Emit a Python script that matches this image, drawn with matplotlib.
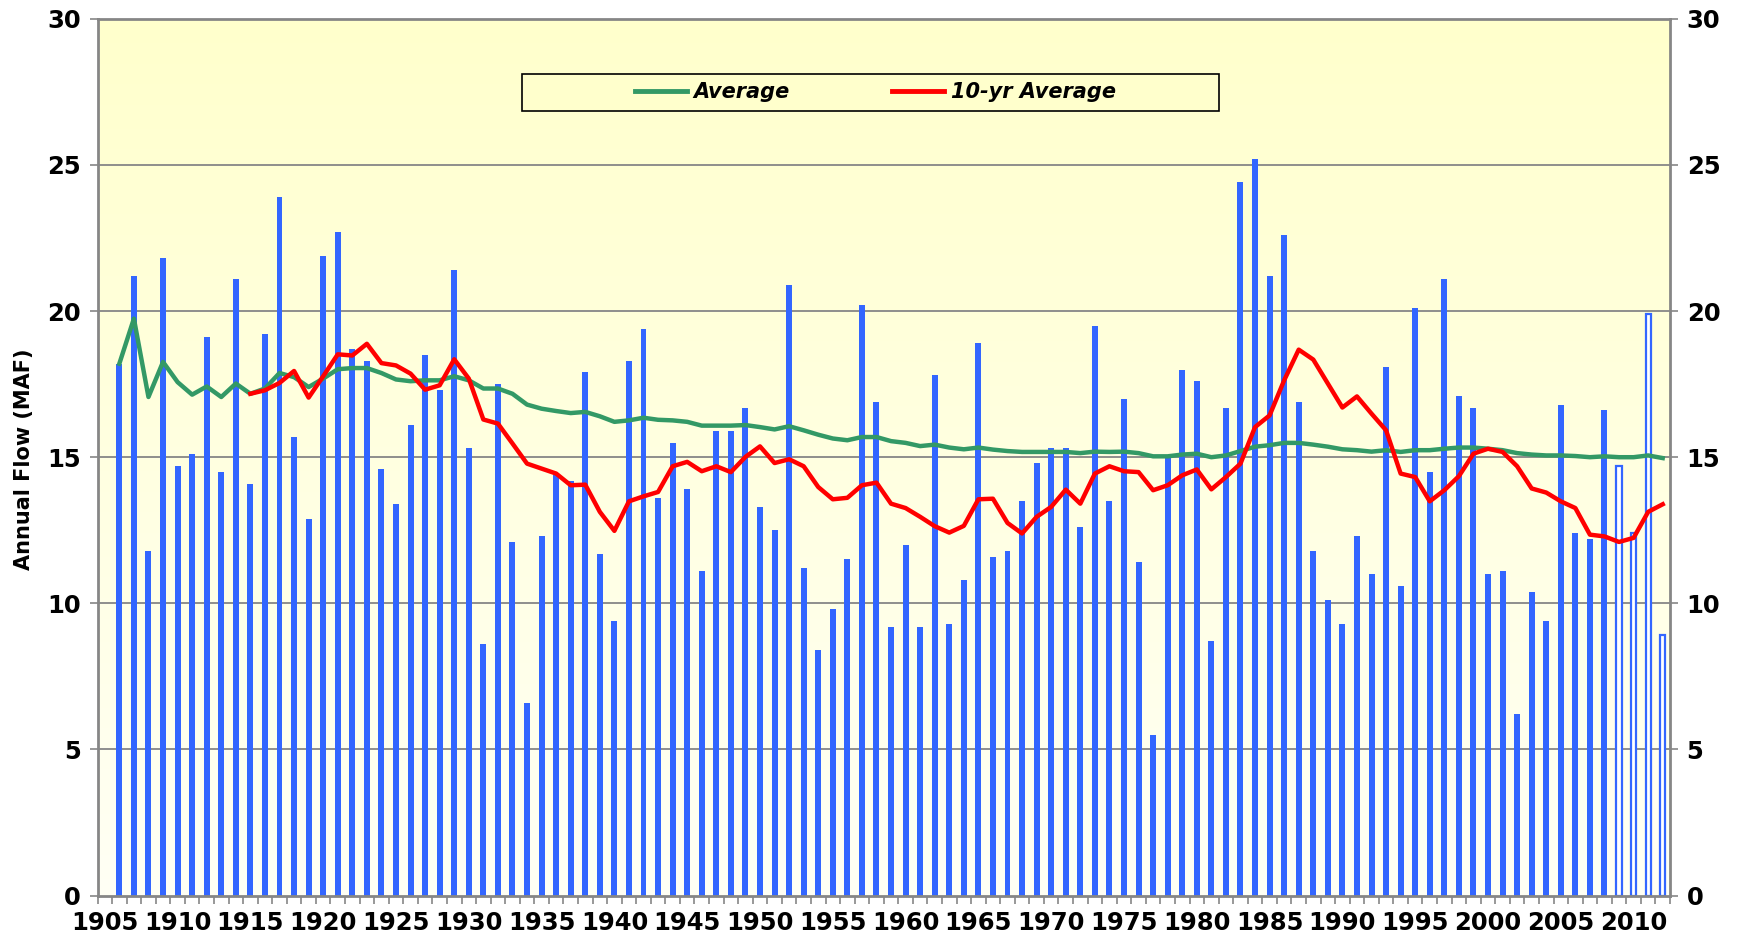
import numpy as np
import matplotlib
matplotlib.use("Agg")
import matplotlib.pyplot as plt
from matplotlib.patches import Rectangle
from matplotlib.lines import Line2D

# ---------------- data ----------------
years = list(range(1906, 2013))
flow = [18.2, 21.2, 11.8, 21.8, 14.7, 15.1, 19.1, 14.5, 21.1, 14.1,
        19.2, 23.9, 15.7, 12.9, 21.9, 22.7, 18.7, 18.3, 14.6, 13.4,
        16.1, 18.5, 17.3, 21.4, 15.3, 8.6, 17.5, 12.1, 6.6, 12.3,
        14.4, 14.2, 17.9, 11.7, 9.4, 18.3, 19.4, 13.6, 15.5, 13.9,
        11.1, 15.9, 15.9, 16.7, 13.3, 12.5, 20.9, 11.2, 8.4, 9.8,
        11.5, 20.2, 16.9, 9.2, 12.0, 9.2, 17.8, 9.3, 10.8, 18.9,
        11.6, 11.8, 13.5, 14.8, 15.3, 15.3, 12.6, 19.5, 13.5, 17.0,
        11.4, 5.5, 15.0, 18.0, 17.6, 8.7, 16.7, 24.4, 25.2, 21.2,
        22.6, 16.9, 11.8, 10.1, 9.3, 12.3, 11.0, 18.1, 10.6, 20.1,
        14.5, 21.1, 17.1, 16.7, 11.0, 11.1, 6.2, 10.4, 9.4, 16.8,
        12.4, 12.2, 16.6, 14.7, 12.4, 19.9, 8.9]
hollow_years = [2009, 2010, 2011, 2012]

average = [18.2, 19.74, 17.06, 18.26, 17.57, 17.14, 17.42, 17.06, 17.52, 17.17,
           17.35, 17.88, 17.74, 17.40, 17.69, 18.01, 18.05, 18.05, 17.88, 17.66,
           17.60, 17.63, 17.63, 17.77, 17.63, 17.35, 17.35, 17.17, 16.80, 16.66,
           16.58, 16.51, 16.55, 16.40, 16.21, 16.26, 16.35, 16.28, 16.26, 16.21,
           16.08, 16.08, 16.08, 16.10, 16.03, 15.95, 16.06, 15.92, 15.77, 15.64,
           15.58, 15.69, 15.69, 15.55, 15.49, 15.38, 15.43, 15.33, 15.27, 15.33,
           15.26, 15.21, 15.18, 15.18, 15.18, 15.18, 15.14, 15.19, 15.18, 15.19,
           15.14, 15.03, 15.03, 15.09, 15.12, 15.00, 15.06, 15.21, 15.36, 15.41,
           15.49, 15.49, 15.43, 15.36, 15.27, 15.24, 15.19, 15.24, 15.18, 15.24,
           15.24, 15.29, 15.33, 15.33, 15.29, 15.24, 15.14, 15.09, 15.06, 15.06,
           15.04, 15.00, 15.03, 15.00, 15.00, 15.06, 14.97]

ten_yr_years = list(range(1915, 2013))
ten_yr = [17.17, 17.29, 17.54, 17.95, 17.04, 17.77, 18.52, 18.48, 18.88, 18.22,
          18.14, 17.86, 17.31, 17.46, 18.35, 17.69, 16.29, 16.15, 15.47, 14.78,
          14.61, 14.44, 14.04, 14.06, 13.13, 12.48, 13.49, 13.66, 13.81, 14.69,
          14.84, 14.52, 14.69, 14.49, 15.01, 15.37, 14.80, 14.93, 14.69, 13.98,
          13.56, 13.61, 14.04, 14.13, 13.41, 13.26, 12.96, 12.64, 12.42, 12.65,
          13.56, 13.58, 12.75, 12.39, 12.96, 13.30, 13.89, 13.41, 14.44, 14.69,
          14.52, 14.49, 13.87, 14.04, 14.38, 14.58, 13.90, 14.32, 14.78, 16.03,
          16.43, 17.63, 18.68, 18.34, 17.52, 16.70, 17.08, 16.49, 15.92, 14.44,
          14.32, 13.49, 13.87, 14.35, 15.12, 15.29, 15.18, 14.69, 13.93, 13.79,
          13.49, 13.26, 12.35, 12.29, 12.10, 12.24, 13.13, 13.39]

x_labels = list(range(1905, 2011, 5))
y_ticks = [0, 5, 10, 15, 20, 25, 30]

# ---------------- style ----------------
BLUE = "#3366FF"
GREEN = "#339966"
RED = "#FF0000"
GRAY = "#868686"
FONT = "DejaVu Sans"

W, H = 1738, 939
fig = plt.figure(figsize=(W / 100, H / 100), dpi=100)
ax_l, ax_r, ax_t, ax_b = 97.5, 1670, 18.8, 895.6
ax = fig.add_axes([ax_l / W, 1 - ax_b / H, (ax_r - ax_l) / W, (ax_b - ax_t) / H])

ax.set_xlim(1904.5, 2012.5)
ax.set_ylim(0, 30)

# gradient background
grad = np.linspace(0, 1, 256).reshape(-1, 1)
top_c = np.array([1.0, 1.0, 0.80])
bot_c = np.array([1.0, 1.0, 0.96])
img = bot_c + (top_c - bot_c) * grad[:, :, None] * np.ones((1, 1, 3))
img = img[::-1]
ax.imshow(img, extent=[0, 1, 0, 1], transform=ax.transAxes, aspect="auto",
          zorder=0, origin="upper")

# gridlines
for v in y_ticks[1:-1]:
    ax.axhline(v, color=GRAY, lw=1.3, zorder=1)

# bars
solid_x = [y for y in years if y not in hollow_years]
solid_v = [v for y, v in zip(years, flow) if y not in hollow_years]
hol_x = [y for y in years if y in hollow_years]
hol_v = [v for y, v in zip(years, flow) if y in hollow_years]
ax.bar(solid_x, solid_v, width=0.41, color=BLUE, zorder=2, linewidth=0)
ax.bar(hol_x, hol_v, width=0.36, facecolor="white", edgecolor=BLUE,
       linewidth=1.6, zorder=2)

# lines
ax.plot(years, average, color=GREEN, lw=3.2, zorder=3, solid_joinstyle="round")
ax.plot(ten_yr_years, ten_yr, color=RED, lw=3.2, zorder=4, solid_joinstyle="round")

# spines
for s in ax.spines.values():
    s.set_color(GRAY)
    s.set_linewidth(2)
    s.set_zorder(5)

# ticks
TICK_FS = 17.5
ax.set_xticks(x_labels)
ax.set_xticklabels([str(v) for v in x_labels], fontfamily=FONT,
                   fontweight="bold", fontsize=TICK_FS)
ax.set_xticks(np.arange(1904.5, 2013, 1.0), minor=True)
ax.tick_params(axis="x", which="major", length=0, pad=11)
ax.tick_params(axis="x", which="minor", length=6, width=1.2, color=GRAY,
               direction="out")
ax.set_yticks(y_ticks)
ax.set_yticklabels([str(v) for v in y_ticks], fontfamily=FONT,
                   fontweight="bold", fontsize=TICK_FS)
ax.tick_params(axis="y", which="major", length=6, width=1.2, color=GRAY,
               direction="out", left=True, right=True, labelleft=True,
               labelright=True, pad=6)

# y label
fig.text(24 / W, 1 - 459 / H, "Annual Flow (MAF)", rotation=90, ha="center",
         va="center", fontsize=15, fontweight="bold", fontfamily=FONT)

# legend
lx0 = (522 - ax_l) / (ax_r - ax_l)
lx1 = (1219 - ax_l) / (ax_r - ax_l)
ly1 = 1 - (74 - ax_t) / (ax_b - ax_t)
ly0 = 1 - (111 - ax_t) / (ax_b - ax_t)
ax.add_patch(Rectangle((lx0, ly0), lx1 - lx0, ly1 - ly0, transform=ax.transAxes,
                       facecolor="#FFFFCC", edgecolor="black", lw=1.2, zorder=6))
handles = [Line2D([], [], color=GREEN, lw=3.5),
           Line2D([], [], color=RED, lw=3.5)]
leg = ax.legend(handles, ["Average", "10-yr Average"], ncol=2,
                loc="center", bbox_to_anchor=((lx0 + lx1) / 2 + 0.003, (ly0 + ly1) / 2),
                frameon=False, handlelength=2.5, handletextpad=0.32,
                columnspacing=4.9,
                prop={"family": FONT, "weight": "bold", "style": "italic",
                      "size": 15})
leg.set_zorder(7)

fig.savefig("out.png", dpi=100)
